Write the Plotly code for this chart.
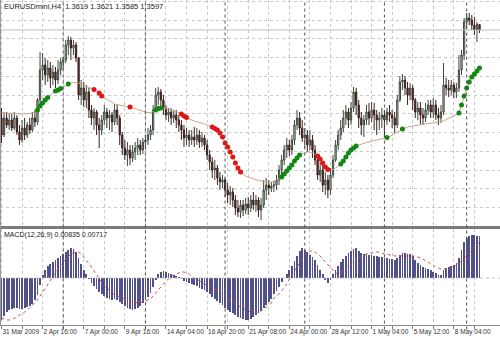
import plotly.graph_objects as go

# ---- EURUSDmini H4 candles (prices in pips, 1 pip = 0.0001) ----
open_pips = [13245,13177,13245,13217,13237,13205,13245,13189,13157,13205,
13177,13217,13197,13245,13229,13317,13437,13457,13417,13445,
13405,13429,13397,13437,13469,13477,13537,13557,13525,13537,
13485,13337,13365,13317,13349,13277,13245,13269,13217,13197,
13237,13269,13245,13257,13229,13277,13245,13177,13125,
13097,13117,13085,13109,13125,13137,13117,13149,13157,13177,
13197,13277,13337,13349,13317,13285,13257,13269,13245,13257,
13237,13217,13197,13165,13177,13157,13169,13157,13177,13149,
13165,13137,13097,13069,13037,13045,13005,12989,12997,12957,
12937,12949,12917,12885,12869,12897,12877,12901,12885,12917,
12897,12917,12877,12897,12957,12977,12965,12973,12977,
12997,13037,13077,13117,13137,13117,13157,13217,13245,13205,
13165,13177,13137,13157,13117,13077,13017,13037,12977,12997,
12957,13017,13077,13137,13177,13205,13245,13269,13237,13285,
13349,13297,13245,13217,13237,13269,13245,13277,13257,13237,
13245,13257,13237,13269,13257,13245,13217,13317,13389,13397,
13365,13337,13365,13317,13269,13285,13257,13245,13277,13297,
13269,13297,13257,13245,13269,13377,13365,13357,13377,13349,
13365,13437,13497,13629,13645,13637,13617,13597,13619]
high_pips = [13285,13269,13269,13265,13261,13269,13257,13217,13237,13245,
13229,13245,13269,13277,13325,13509,13505,13485,13477,13469,
13457,13449,13477,13485,13489,13557,13573,13569,13557,13549,
13489,13397,13389,13377,13365,13297,13285,13277,13245,13257,
13297,13285,13277,13269,13301,13297,13257,13189,13157,
13149,13137,13137,13149,13165,13157,13165,13177,13205,13217,
13297,13365,13369,13361,13337,13297,13285,13285,13277,13277,
13257,13237,13217,13205,13197,13197,13209,13205,13197,13189,
13177,13157,13117,13089,13077,13057,13029,13017,13005,12985,
12973,12965,12937,12917,12917,12917,12925,12929,12937,12949,
12937,12929,12925,12997,13005,12997,12989,12993,13017,
13057,13097,13137,13165,13157,13177,13237,13277,13269,13237,
13205,13197,13197,13177,13137,13097,13069,13057,13029,13017,
13045,13097,13157,13197,13237,13277,13297,13285,13309,13369,
13365,13317,13269,13257,13297,13305,13309,13305,13277,13269,
13285,13277,13285,13297,13277,13269,13337,13413,13421,13413,
13389,13385,13377,13325,13309,13309,13285,13305,13317,13317,
13325,13317,13285,13297,13465,13405,13397,13397,13389,13385,
13497,13517,13645,13665,13665,13657,13649,13629,13621]
low_pips = [13145,13169,13205,13197,13193,13197,13177,13137,13145,13157,
13165,13181,13189,13209,13217,13301,13397,13377,13389,13365,
13377,13365,13381,13417,13437,13465,13497,13477,13497,13469,
13317,13297,13289,13285,13245,13217,13197,13177,13125,13177,
13217,13205,13197,13189,13217,13217,13137,13097,13077,
13053,13057,13069,13077,13097,13097,13101,13125,13137,13157,
13177,13269,13297,13285,13257,13237,13229,13217,13225,13205,
13189,13157,13129,13137,13129,13137,13129,13137,13125,13129,
13117,13077,13037,13005,12997,12977,12957,12965,12929,12905,
12897,12889,12857,12849,12845,12853,12861,12857,12869,12877,
12869,12849,12837,12885,12917,12937,12949,12949,12957,
12977,13017,13057,13085,13093,13097,13137,13197,13177,13149,
13125,13109,13117,13085,13057,12997,12989,12949,12937,12925,
12937,13005,13069,13117,13157,13189,13217,13205,13217,13269,
13257,13205,13177,13169,13217,13217,13229,13197,13177,13197,
13205,13169,13217,13229,13205,13185,13205,13309,13357,13337,
13297,13317,13277,13245,13237,13221,13217,13229,13257,13245,
13245,13237,13217,13225,13257,13337,13329,13337,13325,13325,
13349,13417,13477,13605,13617,13597,13577,13549,13585]
close_pips = [13177,13245,13217,13237,13205,13245,13189,13157,13205,13177,
13217,13197,13245,13229,13317,13437,13457,13417,13445,13405,
13429,13397,13437,13469,13477,13537,13557,13525,13537,13485,
13337,13365,13317,13349,13277,13245,13269,13217,13197,13237,
13269,13245,13257,13229,13277,13245,13177,13125,13097,
13117,13085,13109,13125,13137,13117,13149,13157,13177,13197,
13277,13337,13349,13317,13285,13257,13269,13245,13257,13237,
13217,13197,13165,13177,13157,13169,13157,13177,13149,13165,
13137,13097,13069,13037,13045,13005,12989,12997,12957,12937,
12949,12917,12885,12869,12897,12877,12901,12885,12917,12897,
12917,12877,12897,12957,12977,12965,12973,12977,12997,
13037,13077,13117,13137,13117,13157,13217,13245,13205,13165,
13177,13137,13157,13117,13077,13017,13037,12977,12997,12957,
13017,13077,13137,13177,13205,13245,13269,13237,13285,13349,
13297,13245,13217,13237,13269,13245,13277,13257,13237,13245,
13257,13237,13269,13257,13245,13217,13317,13389,13397,13365,
13337,13365,13317,13269,13285,13257,13245,13277,13297,13269,
13297,13257,13245,13269,13377,13365,13357,13377,13349,13365,
13437,13497,13629,13645,13637,13617,13597,13619,13597]

# moving average line (pips)
ma_pips = [13265,13265,13265,13265,13265,13265,13263,13261,13261,13261,
13261,13263,13265,13269,13277,13293,13305,13317,13327,13337,
13345,13353,13357,13363,13369,13375,13381,13385,13387,13387,
13385,13381,13377,13373,13369,13365,13359,13353,13345,13333,
13325,13319,13313,13309,13301,13299,13297,13295,13293,
13291,13289,13287,13283,13279,13275,13271,13269,13267,13267,
13271,13277,13283,13285,13285,13283,13281,13277,13275,13271,
13267,13261,13253,13247,13241,13237,13233,13229,13227,13225,
13221,13219,13215,13209,13203,13197,13185,13169,13145,13129,
13109,13089,13065,13045,13029,13019,13013,13009,13005,13001,
12997,12995,12993,12991,12989,12989,12989,12993,12997,
13001,13009,13021,13033,13045,13057,13073,13085,13097,13103,
13107,13109,13109,13105,13099,13093,13081,13065,13049,13039,
13037,13039,13045,13053,13061,13073,13089,13105,13117,13125,
13133,13137,13141,13145,13147,13149,13153,13155,13157,13159,
13161,13165,13167,13171,13177,13183,13189,13195,13201,13205,
13209,13211,13213,13215,13217,13219,13221,13221,13223,13225,
13225,13227,13229,13229,13233,13239,13245,13249,13253,13259,
13265,13297,13333,13365,13389,13409,13421,13433,13445]

# bars where the trend dots are shown
up_dot_bars = [14,15,16,17,18,21,22,23,26,60,61,62,109,110,111,112,113,114,115,116,
               132,133,134,135,136,137,138,150,156,178,179,180,181,182,183,184,185,186]
down_dot_bars = [36,38,39,50,70,71,72,82,83,84,85,86,87,88,89,90,91,92,93,
                 123,124,125,126,127]

# MACD(12,26,9) main (histogram) and signal, in units of 0.0001
macd_main = [-84,-76,-68,-64,-62,-60,-60,-62,-62,-60,
-58,-56,-52,-44,-34,-14,6,16,24,28,
32,36,40,44,48,52,56,60,58,52,
40,28,16,8,-2,-10,-16,-22,-28,-32,
-36,-40,-42,-44,-42,-44,-48,-52,-56,
-60,-62,-64,-62,-60,-56,-50,-44,-38,-30,
-18,-4,8,12,14,12,10,8,6,4,
2,-2,-6,-8,-10,-12,-14,-16,-20,-22,
-24,-28,-32,-38,-42,-46,-50,-54,-60,-64,
-68,-70,-74,-78,-80,-82,-84,-84,-82,-78,
-74,-70,-66,-60,-54,-48,-42,-32,-26,
-18,-8,0,8,16,24,34,44,54,60,
56,52,46,42,36,26,16,8,-4,-10,
-4,8,16,24,32,38,44,50,54,58,
60,54,50,48,48,46,46,44,44,42,
42,40,40,38,38,36,40,46,50,50,
48,48,44,36,30,26,22,20,18,16,
12,10,6,6,16,20,22,24,26,30,
40,56,72,80,84,86,86,84,83.5]
macd_signal = [-80,-82,-84,-84,-83,-80,-78,-74,-72,-68,
-64,-60,-54,-50,-44,-36,-28,-22,-14,-6,
2,10,18,26,32,38,44,48,50,52,
52,48,42,36,30,22,14,6,-2,-10,
-16,-20,-26,-30,-34,-36,-38,-40,-42,
-44,-46,-48,-49,-50,-50,-48,-46,-44,-42,
-36,-30,-22,-16,-10,-6,-2,2,6,8,
10,12,12,10,8,4,0,-2,-6,-8,
-12,-14,-16,-20,-22,-26,-28,-32,-36,-40,
-44,-48,-52,-54,-58,-60,-64,-66,-68,-70,
-70,-68,-66,-62,-58,-54,-50,-40,-36,
-32,-26,-20,-12,-2,6,14,24,32,40,
46,50,54,54,52,48,44,38,32,26,
20,14,10,8,10,14,20,24,28,32,
36,40,44,46,48,50,50,52,52,52,
50,48,48,46,46,44,44,44,44,44,
44,44,44,44,42,40,38,34,32,28,
26,22,20,18,18,18,20,20,22,26,
30,34,40,44,50,56,60,66,71.7]

time_labels = ["31 Mar 2009", "2 Apr 16:00", "7 Apr 00:00", "9 Apr 16:00", "14 Apr 04:00",
               "16 Apr 20:00", "21 Apr 08:00", "24 Apr 00:00", "28 Apr 12:00", "1 May 04:00",
               "5 May 12:00", "8 May 04:00"]
label_every = 16
grid_every = 8
week_start_bars = [24, 56, 87, 118, 149, 181]

header_text = "EURUSDmini,H4  1.3619 1.3621 1.3585 1.3597"
macd_text = "MACD(12,26,9) 0.00835 0.00717"

# ---- build ----
n = len(close_pips)
x = list(range(n))
p = lambda arr: [v / 10000 for v in arr]
o, h, l, c = p(open_pips), p(high_pips), p(low_pips), p(close_pips)
ma = p(ma_pips)
hist = p(macd_main)
sig = p(macd_signal)

fig = go.Figure()
fig.add_trace(go.Candlestick(
    x=x, open=o, high=h, low=l, close=c, xaxis="x", yaxis="y",
    increasing=dict(line=dict(color="#3b4a3b", width=1), fillcolor="#d8d8d8"),
    decreasing=dict(line=dict(color="#3a2020", width=1), fillcolor="#7a1e1e"),
    whiskerwidth=0, hoverinfo="skip"))
fig.add_trace(go.Scatter(x=x, y=ma, mode="lines", line=dict(color="#c9a58c", width=1),
                         xaxis="x", yaxis="y", hoverinfo="skip"))
fig.add_trace(go.Scatter(x=up_dot_bars, y=[ma[i] for i in up_dot_bars], mode="markers",
                         marker=dict(color="#118811", size=5), xaxis="x", yaxis="y"))
fig.add_trace(go.Scatter(x=down_dot_bars, y=[ma[i] for i in down_dot_bars], mode="markers",
                         marker=dict(color="#e01515", size=5), xaxis="x", yaxis="y"))
fig.add_trace(go.Bar(x=x, y=hist, marker=dict(color="#50508a", line=dict(width=0)),
                     width=0.3, xaxis="x", yaxis="y2"))
fig.add_trace(go.Scatter(x=x, y=sig, mode="lines", line=dict(color="#d24a4a", width=1, dash="dot"),
                         xaxis="x", yaxis="y2"))

W, H = 500, 337
mb = 12
ph = H - mb
main_top_px, main_bot_px = 0, 226
sub_top_px = 229
main_dom = [1 - main_bot_px / ph, 1]
sub_dom = [0, 1 - sub_top_px / ph]

px_per_bar = 2.57
x0_px = 1.5
xr = [-x0_px / px_per_bar, (W - x0_px) / px_per_bar]

tickvals = list(range(0, n, grid_every))
ticktext = []
for t in tickvals:
    if t % label_every == 0 and t // label_every < len(time_labels):
        ticktext.append(time_labels[t // label_every])
    else:
        ticktext.append("")

shapes = []
# panel separator
shapes.append(dict(type="rect", xref="paper", yref="paper", x0=0, x1=1,
                   y0=sub_dom[1], y1=main_dom[0], fillcolor="#7c7c7c", line=dict(width=0)))
# week separators
for b in week_start_bars:
    shapes.append(dict(type="line", xref="x", yref="paper", x0=b, x1=b, y0=-0.014, y1=1,
                       line=dict(color="#505050", width=1, dash="dot")))
# macd zero level
shapes.append(dict(type="line", xref="paper", yref="y2", x0=0, x1=1, y0=0, y1=0,
                   line=dict(color="#c0c0c0", width=1, dash="dot")))
# bid line
shapes.append(dict(type="line", xref="paper", yref="y", x0=0, x1=1, y0=c[-1], y1=c[-1],
                   line=dict(color="#bdbdbd", width=1)))
# left border
shapes.append(dict(type="line", xref="paper", yref="paper", x0=0.001, x1=0.001, y0=0, y1=1,
                   line=dict(color="#9a9a9a", width=1)))

fig.update_layout(
    width=W, height=H, margin=dict(l=0, r=0, t=0, b=mb),
    paper_bgcolor="white", plot_bgcolor="white", showlegend=False,
    bargap=0,
    font=dict(family="Liberation Sans, Arial, sans-serif", size=7, color="#222222"),
    xaxis=dict(range=xr, anchor="y2", tickmode="array", tickvals=tickvals, ticktext=ticktext,
               tickangle=0,
               showgrid=True, gridcolor="#c9c9c9", griddash="dot", gridwidth=1,
               ticks="outside", ticklen=3, tickcolor="#777777", showline=True,
               linecolor="#8a8a8a", linewidth=1, zeroline=False,
               ticklabelposition="outside right", tickfont=dict(size=6.5, color="#333333"),
               rangeslider=dict(visible=False)),
    yaxis=dict(domain=main_dom, range=[1.2813, 1.3717], showticklabels=False,
               showgrid=True, gridcolor="#c9c9c9", griddash="dot", gridwidth=1,
               tick0=1.3637, dtick=0.0075, zeroline=False, ticks=""),
    yaxis2=dict(domain=sub_dom, range=[-0.0094, 0.0098], showticklabels=False,
                showgrid=False, zeroline=False, ticks=""),
    shapes=shapes,
    annotations=[
        dict(xref="paper", yref="paper", x=0.004, y=1.0, xanchor="left", yanchor="top",
             text=header_text, showarrow=False, font=dict(size=7.5, color="#222222")),
        dict(xref="paper", yref="paper", x=0.004, y=sub_dom[1], xanchor="left", yanchor="top",
             text=macd_text, showarrow=False, font=dict(size=7, color="#222222")),
    ],
)

fig.write_html("out.html")
